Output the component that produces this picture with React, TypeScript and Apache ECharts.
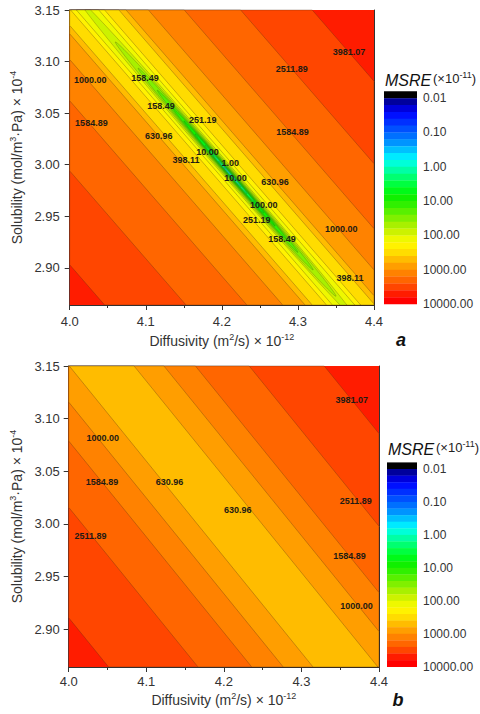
import React, { useEffect, useRef } from "react";
import * as echarts from "echarts";

const FONT = '"Liberation Sans", Arial, sans-serif';

// Axes
const diffusivityRange = [4.0, 4.4];
const diffusivityStep = 0.1;
const solubilityRange = [2.864, 3.15];
const solubilityTicks = [2.9, 2.95, 3.0, 3.05, 3.1, 3.15];
const msreTicks = [0.01, 0.1, 1, 10, 100, 1000, 10000];
const msreBarLogRange = [-2.2, 4];

// Colour of each 0.2-decade band, from below 0.01 up to 10000
const bandColors = [
  "#000000", "#00009c", "#0000dc", "#0010ff", "#0030ff", "#0050ff",
  "#0070ff", "#0094ff", "#00c0ff", "#00eaff", "#00ffd8", "#00ffa4",
  "#00ff70", "#00ff40", "#00fa18", "#10f000", "#30f000", "#58f000",
  "#80f000", "#a8f000", "#ccf200", "#eef800", "#fff200", "#ffdc00",
  "#ffbc00", "#ff9e00", "#ff8200", "#ff6600", "#ff4600", "#ff1c00",
  "#ff0000",
];

// Corners of both panels sit between 3981.07 and this contour
const outerLevel = 6309.57;

// Panel a: straight contours, [x at S = 3.15, x at S = 2.864]
const stripLevelsA = [3981.07, 2511.89, 1584.89, 1000.0, 630.96, 398.11, 251.19, 158.49];
const stripLowerA = [
  [3.7094, 4.0459], [3.8165, 4.1529], [3.8965, 4.2329], [3.9435, 4.28],
  [3.9729, 4.3094], [3.9824, 4.3188], [4.0012, 4.3376], [4.0088, 4.3453],
];
const stripUpperA = [
  [4.3188, 4.6553], [4.2247, 4.5612], [4.1506, 4.4871], [4.1035, 4.44],
  [4.0741, 4.4106], [4.0647, 4.4012], [4.0459, 4.3824], [4.0382, 4.3747],
];
// Panel a: closed contours along the valley, tips [x1, y1, x2, y2] and half-width in S
const loopLevelsA = [100.0, 63.1, 39.81, 25.12, 15.85, 10.0, 6.31, 3.98, 2.51, 1.58, 1.0];
const loopEndsA = [
  [4.01, 3.1615, 4.38, 2.847],
  [4.06, 3.119, 4.35, 2.8725],
  [4.09, 3.0935, 4.32, 2.898],
  [4.115, 3.0723, 4.3, 2.915],
  [4.135, 3.0553, 4.285, 2.9278],
  [4.15, 3.0425, 4.27, 2.9405],
  [4.165, 3.0298, 4.255, 2.9533],
  [4.178, 3.0187, 4.243, 2.9635],
  [4.188, 3.0102, 4.233, 2.972],
  [4.196, 3.0034, 4.225, 2.9788],
  [4.203, 2.9975, 4.218, 2.9847],
];
const loopHalfWidthA = [0.0085, 0.0068, 0.0055, 0.0045, 0.0038, 0.0031, 0.0024, 0.0018, 0.0013, 0.0009, 0.0005];
const labelsA = [
  [4.367, 3.109, 3981.07], [4.292, 3.0925, 2511.89], [4.027, 3.082, 1000.0],
  [4.099, 3.084, 158.49], [4.12, 3.057, 158.49], [4.175, 3.043, 251.19],
  [4.0285, 3.04, 1584.89], [4.293, 3.0315, 1584.89], [4.117, 3.0276, 630.96],
  [4.181, 3.0124, 10.0], [4.153, 3.0043, 398.11], [4.211, 3.002, 1.0],
  [4.218, 2.9875, 10.0], [4.27, 2.983, 630.96], [4.255, 2.961, 100.0],
  [4.246, 2.9465, 251.19], [4.357, 2.938, 1000.0], [4.279, 2.928, 158.49],
  [4.3685, 2.8906, 398.11],
];

// Panel b
const stripLevelsB = [3981.07, 2511.89, 1584.89, 1000.0, 630.96];
const stripLowerB = [
  [3.7371, 4.0514], [3.8525, 4.1667], [3.9217, 4.236], [3.9623, 4.2766], [4.0008, 4.315],
];
const stripUpperB = [
  [4.3294, 4.6437], [4.2327, 4.547], [4.1634, 4.4777], [4.1228, 4.4371], [4.0843, 4.3986],
];
const labelsB = [
  [4.365, 3.118, 3981.07], [4.044, 3.082, 1000.0], [4.043, 3.04, 1584.89],
  [4.13, 3.04, 630.96], [4.218, 3.013, 630.96], [4.37, 3.022, 2511.89],
  [4.028, 2.988, 2511.89], [4.362, 2.969, 1584.89], [4.371, 2.922, 1000.0],
];

const LINE = "rgba(70,45,20,0.5)";

function colorFor(level: number) {
  return bandColors[Math.round((Math.log10(level) + 2) / 0.2)];
}

type Rect = { x: number; y: number; width: number; height: number };

function clipEdge(pts: number[][], axis: number, bound: number, keepGreater: boolean) {
  const out: number[][] = [];
  for (let i = 0; i < pts.length; i++) {
    const a = pts[i];
    const b = pts[(i + 1) % pts.length];
    const ina = keepGreater ? a[axis] >= bound : a[axis] <= bound;
    const inb = keepGreater ? b[axis] >= bound : b[axis] <= bound;
    if (ina) out.push(a);
    if (ina !== inb) {
      const t = (bound - a[axis]) / (b[axis] - a[axis]);
      out.push([a[0] + t * (b[0] - a[0]), a[1] + t * (b[1] - a[1])]);
    }
  }
  return out;
}

function clipToRect(pts: number[][], r: Rect) {
  let p = clipEdge(pts, 0, r.x, true);
  if (p.length) p = clipEdge(p, 0, r.x + r.width, false);
  if (p.length) p = clipEdge(p, 1, r.y, true);
  if (p.length) p = clipEdge(p, 1, r.y + r.height, false);
  return p;
}

function backgroundSeries(axis: number) {
  return {
    type: "custom",
    xAxisIndex: axis,
    yAxisIndex: axis,
    silent: true,
    z: 1,
    data: [[4.2, 3.0]],
    renderItem: (params: any) => {
      const r = params.coordSys as Rect;
      return {
        type: "rect",
        shape: { x: r.x, y: r.y, width: r.width, height: r.height },
        style: { fill: colorFor(outerLevel) },
      };
    },
  };
}

function stripSeries(axis: number, levels: number[], lower: number[][], upper: number[][]) {
  return {
    type: "custom",
    xAxisIndex: axis,
    yAxisIndex: axis,
    silent: true,
    z: 2,
    data: levels.map((lv, i) => [lower[i][0], lower[i][1], upper[i][0], upper[i][1], lv]),
    renderItem: (params: any, api: any) => {
      const top = solubilityRange[1];
      const bottom = solubilityRange[0];
      const pts = [
        api.coord([api.value(0), top]),
        api.coord([api.value(2), top]),
        api.coord([api.value(3), bottom]),
        api.coord([api.value(1), bottom]),
      ];
      const clipped = clipToRect(pts, params.coordSys as Rect);
      return {
        type: "polygon",
        shape: { points: clipped },
        style: { fill: colorFor(api.value(4)), stroke: LINE, lineWidth: 0.6 },
      };
    },
  };
}

function loopSeries(axis: number, levels: number[], ends: number[][], half: number[]) {
  return {
    type: "custom",
    xAxisIndex: axis,
    yAxisIndex: axis,
    silent: true,
    z: 3,
    data: levels.map((lv, i) => [...ends[i], half[i], lv]),
    renderItem: (params: any, api: any) => {
      const x1 = api.value(0), y1 = api.value(1), x2 = api.value(2), y2 = api.value(3);
      const hw = api.value(4);
      const p1 = api.coord([x1, y1]);
      const p2 = api.coord([x2, y2]);
      const mx = (x1 + x2) / 2, my = (y1 + y2) / 2;
      const c = api.coord([mx, my]);
      const up = api.coord([mx, my + hw]);
      const dx = p2[0] - p1[0], dy = p2[1] - p1[1];
      const len = Math.hypot(dx, dy);
      const ux = dx / len, uy = dy / len;
      const a = len / 2;
      const b = Math.abs(up[1] - c[1]) * Math.abs(ux);
      const pts: number[][] = [];
      for (let k = 0; k < 120; k++) {
        const t = (k / 120) * Math.PI * 2;
        const ca = a * Math.cos(t), sb = b * Math.sin(t);
        pts.push([c[0] + ca * ux - sb * uy, c[1] + ca * uy + sb * ux]);
      }
      return {
        type: "polygon",
        shape: { points: clipToRect(pts, params.coordSys as Rect) },
        style: { fill: colorFor(api.value(5)), stroke: LINE, lineWidth: 0.5 },
      };
    },
  };
}

function labelSeries(axis: number, labels: number[][]) {
  return {
    type: "custom",
    xAxisIndex: axis,
    yAxisIndex: axis,
    silent: true,
    z: 5,
    data: labels,
    renderItem: (_params: any, api: any) => {
      const p = api.coord([api.value(0), api.value(1)]);
      return {
        type: "text",
        x: p[0],
        y: p[1],
        style: {
          text: Number(api.value(2)).toFixed(2),
          fill: "#1e1a14",
          fontSize: 9,
          fontWeight: "bold",
          fontFamily: FONT,
          align: "center",
          verticalAlign: "middle",
        },
      };
    },
  };
}

function colorbarSeries(axis: number) {
  const n = bandColors.length;
  const span = msreBarLogRange[1] - msreBarLogRange[0];
  const data = bandColors.map((_c, i) => [
    msreBarLogRange[0] + (span * i) / n,
    msreBarLogRange[0] + (span * (i + 1)) / n,
    i,
  ]);
  return {
    type: "custom",
    xAxisIndex: axis,
    yAxisIndex: axis,
    silent: true,
    z: 2,
    data,
    renderItem: (_params: any, api: any) => {
      const p1 = api.coord([0, api.value(0)]);
      const p2 = api.coord([1, api.value(1)]);
      return {
        type: "rect",
        shape: {
          x: Math.min(p1[0], p2[0]),
          y: Math.min(p1[1], p2[1]),
          width: Math.abs(p2[0] - p1[0]),
          height: Math.abs(p2[1] - p1[1]) + 0.3,
        },
        style: { fill: bandColors[api.value(2)] },
      };
    },
  };
}

const axisColor = "#333";

function bottomAxis(grid: number, labelMargin: number, nameGap: number) {
  return {
    gridIndex: grid,
    type: "value",
    position: "bottom",
    min: diffusivityRange[0],
    max: diffusivityRange[1],
    interval: diffusivityStep,
    axisLine: { show: true, lineStyle: { color: axisColor, width: 1 } },
    axisTick: { show: true, length: 5, lineStyle: { color: axisColor } },
    minorTick: { show: true, splitNumber: 2, length: 3, lineStyle: { color: axisColor } },
    splitLine: { show: false },
    axisLabel: {
      formatter: (v: number) => v.toFixed(1),
      margin: labelMargin,
      fontSize: 13,
      color: axisColor,
      fontFamily: FONT,
    },
    name: "{t|Diffusivity (m}{s|2}{t|/s) × 10}{s|-12}",
    nameLocation: "middle",
    nameGap,
    nameTextStyle: {
      rich: {
        t: { fontSize: 14, fontFamily: FONT, color: axisColor, lineHeight: 17 },
        s: { fontSize: 9, fontFamily: FONT, color: axisColor, verticalAlign: "top", lineHeight: 17 },
      },
    },
  };
}

function frameXAxis(grid: number) {
  return {
    gridIndex: grid,
    type: "value",
    position: "top",
    min: diffusivityRange[0],
    max: diffusivityRange[1],
    axisLine: { show: true, lineStyle: { color: axisColor, width: 1 } },
    axisTick: { show: false },
    axisLabel: { show: false },
    splitLine: { show: false },
  };
}

function leftAxis(grid: number, labelMargin: number, nameGap: number) {
  return {
    gridIndex: grid,
    type: "value",
    position: "left",
    min: solubilityRange[0],
    max: solubilityRange[1],
    axisLine: { show: true, lineStyle: { color: axisColor, width: 1 } },
    axisTick: { show: true, length: 5, customValues: solubilityTicks, lineStyle: { color: axisColor } },
    splitLine: { show: false },
    axisLabel: {
      customValues: solubilityTicks,
      formatter: (v: number) => v.toFixed(2),
      margin: labelMargin,
      fontSize: 13,
      color: axisColor,
      fontFamily: FONT,
    },
    name: "{t|Solubility (mol/m}{s|3}{t|·Pa) × 10}{s|-4}",
    nameLocation: "middle",
    nameRotate: 90,
    nameGap,
    nameTextStyle: {
      rich: {
        t: { fontSize: 14, fontFamily: FONT, color: axisColor, lineHeight: 17 },
        s: { fontSize: 9, fontFamily: FONT, color: axisColor, verticalAlign: "top", lineHeight: 17 },
      },
    },
  };
}

function frameYAxis(grid: number) {
  return {
    gridIndex: grid,
    type: "value",
    position: "right",
    min: solubilityRange[0],
    max: solubilityRange[1],
    axisLine: { show: true, lineStyle: { color: axisColor, width: 1 } },
    axisTick: { show: false },
    axisLabel: { show: false },
    splitLine: { show: false },
  };
}

function barXAxis(grid: number) {
  return { gridIndex: grid, type: "value", min: 0, max: 1, show: false };
}

function barYAxis(grid: number) {
  const logTicks = msreTicks.map((v) => Math.log10(v));
  return {
    gridIndex: grid,
    type: "value",
    position: "right",
    inverse: true,
    min: msreBarLogRange[0],
    max: msreBarLogRange[1],
    axisLine: { show: false },
    axisTick: { show: false },
    splitLine: { show: false },
    axisLabel: {
      customValues: logTicks,
      formatter: (v: number) => Math.pow(10, v).toFixed(2),
      margin: 6,
      fontSize: 12,
      color: axisColor,
      fontFamily: FONT,
    },
  };
}

function titleGraphics(x: number, y: number) {
  return [
    {
      type: "text",
      x,
      y,
      style: {
        text: "MSRE",
        fill: "#111",
        fontSize: 16,
        fontStyle: "italic",
        fontFamily: FONT,
        verticalAlign: "middle",
      },
    },
    {
      type: "text",
      x: x + 48,
      y: y - 2,
      style: {
        text: "(×10{s|-11})",
        fill: "#222",
        fontSize: 13,
        fontFamily: FONT,
        verticalAlign: "middle",
        rich: { s: { fontSize: 9, fontFamily: FONT, fill: "#222", verticalAlign: "top", lineHeight: 15 } },
      },
    },
  ];
}

function panelLetter(text: string, x: number, y: number) {
  return {
    type: "text",
    x,
    y,
    style: {
      text,
      fill: "#111",
      fontSize: 18,
      fontStyle: "italic",
      fontWeight: "bold",
      fontFamily: FONT,
      align: "center",
      verticalAlign: "middle",
    },
  };
}

export default function App() {
  const ref = useRef<HTMLDivElement>(null);

  useEffect(() => {
    if (!ref.current) return;
    const chart = echarts.init(ref.current, null, { renderer: "svg" });
    chart.setOption({
      animation: false,
      backgroundColor: "#ffffff",
      grid: [
        { left: 60, top: 10, width: 314, height: 295 },
        { left: 59, top: 366, width: 320, height: 301 },
        { left: 384, top: 91.3, width: 33, height: 212.7 },
        { left: 387, top: 462.4, width: 30, height: 204.3 },
      ],
      xAxis: [
        bottomAxis(0, 10, 27),
        frameXAxis(0),
        bottomAxis(1, 8, 24),
        frameXAxis(1),
        barXAxis(2),
        barXAxis(3),
      ],
      yAxis: [
        leftAxis(0, 10, 40),
        frameYAxis(0),
        leftAxis(1, 9, 38),
        frameYAxis(1),
        barYAxis(2),
        barYAxis(3),
      ],
      series: [
        backgroundSeries(0),
        stripSeries(0, stripLevelsA, stripLowerA, stripUpperA),
        loopSeries(0, loopLevelsA, loopEndsA, loopHalfWidthA),
        labelSeries(0, labelsA),
        backgroundSeries(2),
        stripSeries(2, stripLevelsB, stripLowerB, stripUpperB),
        labelSeries(2, labelsB),
        colorbarSeries(4),
        colorbarSeries(5),
      ],
      graphic: [
        ...titleGraphics(385, 80),
        ...titleGraphics(388, 449),
        panelLetter("a", 401, 340),
        panelLetter("b", 398, 700),
      ],
    });
    return () => chart.dispose();
  }, []);

  return (
    <div
      ref={ref}
      style={{ position: "fixed", left: 0, top: 0, width: 480, height: 714, background: "#fff" }}
    />
  );
}
